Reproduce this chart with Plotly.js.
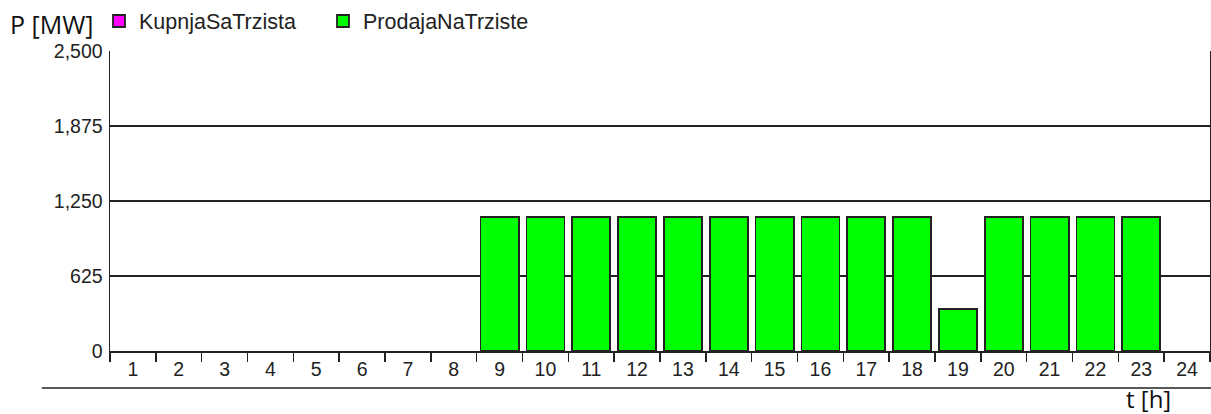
<!DOCTYPE html>
<html>
<head>
<meta charset="utf-8">
<script src="https://cdn.plot.ly/plotly-3.0.1.min.js"></script>
<style>html,body{margin:0;padding:0;background:#fff;}#chart{width:1211px;height:414px;}</style>
</head>
<body>
<div id="chart"></div>
<script>
const hours = ["1","2","3","4","5","6","7","8","9","10","11","12","13","14","15","16","17","18","19","20","21","22","23","24"];
const kupnjaSaTrzista = [0,0,0,0,0,0,0,0,0,0,0,0,0,0,0,0,0,0,0,0,0,0,0,0];
const prodajaNaTrziste = [0,0,0,0,0,0,0,0,1120,1120,1120,1120,1120,1120,1120,1120,1120,1120,350,1120,1120,1120,1120,0];
const yTicks = [0,625,1250,1875,2500];

const tickFont = {family: "Liberation Sans, Arial, sans-serif", size: 19.5, color: "#222"};
const legendFont = {family: "Liberation Sans, Arial, sans-serif", size: 21.5, color: "#222"};
// zero-height bars are not drawn in the original chart
const visibleOnly = arr => arr.map(v => (v > 0 ? v : null));

const traces = [
  {type: "bar", name: "KupnjaSaTrzista", x: hours, y: visibleOnly(kupnjaSaTrzista),
   marker: {color: "#ff00ff", line: {color: "#222", width: 1.8}}},
  {type: "bar", name: "ProdajaNaTrziste", x: hours, y: visibleOnly(prodajaNaTrziste),
   marker: {color: "#00ff00", line: {color: "#222", width: 1.8}}}
];

const layout = {
  width: 1211, height: 414,
  margin: {l: 110, r: 1, t: 51, b: 63},
  paper_bgcolor: "#fff", plot_bgcolor: "#fff",
  barmode: "stack", bargap: 0.17,
  showlegend: true,
  legend: {orientation: "h", traceorder: "normal", x: -0.01, y: 1.1, xanchor: "left", yanchor: "middle",
           font: legendFont, itemwidth: 30, entrywidth: 179, entrywidthmode: "pixels",
           bgcolor: "rgba(0,0,0,0)"},
  xaxis: {type: "category", tickson: "boundaries", ticks: "outside", ticklen: 9, tickwidth: 1.5,
          tickcolor: "#222", showgrid: false, showline: true, linecolor: "#222", linewidth: 2,
          tickfont: tickFont, fixedrange: true},
  yaxis: {range: [0, 2500], tickvals: yTicks, tickformat: ",", ticks: "",
          showgrid: true, gridcolor: "#222", gridwidth: 1.5, zeroline: false,
          showline: true, linecolor: "#222", linewidth: 1.5, mirror: true,
          tickfont: tickFont, ticklabelstandoff: 2, fixedrange: true},
  shapes: [
    {type: "line", xref: "paper", yref: "paper", x0: -0.062, x1: 1.001, y0: -0.123, y1: -0.123,
     line: {color: "#222", width: 1.5}}
  ],
  annotations: [
    {text: "P [MW]", xref: "paper", yref: "paper", x: -0.093, y: 1.09, xanchor: "left", yanchor: "middle",
     showarrow: false, font: {family: "Open Sans, sans-serif", size: 25, color: "#111"}},
    {text: "t [h]", xref: "paper", yref: "paper", x: 0.922, y: -0.158, xanchor: "left", yanchor: "middle",
     showarrow: false, font: {family: "Open Sans, sans-serif", size: 24, color: "#111"}}
  ]
};

Plotly.newPlot("chart", traces, layout, {displayModeBar: false, staticPlot: true});
</script>
</body>
</html>
